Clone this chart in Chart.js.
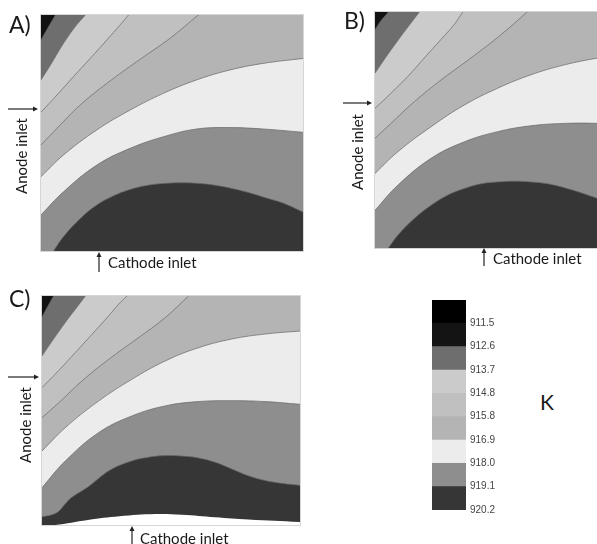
<!DOCTYPE html>
<html>
<head>
<meta charset="utf-8">
<script src="https://cdn.jsdelivr.net/npm/chart.js@4.4.1/dist/chart.umd.min.js"></script>
<style>
  body { margin: 0; width: 597px; height: 544px; overflow: hidden; background: #fff; position: relative; font-family: Lato, "Open Sans", sans-serif; }
  canvas { position: absolute; }
  canvas.panel { outline: 1px solid #d6d6d6; }
  .lbl { position: absolute; color: #1a1a1a; white-space: nowrap; line-height: 1; }
  .rot { position: absolute; color: #1a1a1a; white-space: nowrap; line-height: 1; font-size: 15px; transform: translate(-50%, -50%) rotate(-90deg); }
  svg { position: absolute; left: 0; top: 0; }
</style>
</head>
<body>
<canvas class="panel" id="panelA" width="262" height="236" style="left:41px;top:15px"></canvas>
<canvas class="panel" id="panelB" width="222" height="236" style="left:375px;top:12px"></canvas>
<canvas class="panel" id="panelC" width="258" height="229" style="left:42px;top:296px"></canvas>
<canvas id="scale" width="74" height="230" style="left:432px;top:290px"></canvas>

<div class="lbl" style="left:9px;top:13px;font-size:23px">A)</div>
<div class="lbl" style="left:344px;top:9px;font-size:23px">B)</div>
<div class="lbl" style="left:9px;top:287px;font-size:23px">C)</div>
<div class="rot" style="left:21px;top:156px">Anode inlet</div>
<div class="rot" style="left:357px;top:152px">Anode inlet</div>
<div class="rot" style="left:25px;top:425px">Anode inlet</div>
<div class="lbl" style="left:108px;top:255px;font-size:15px">Cathode inlet</div>
<div class="lbl" style="left:493px;top:251px;font-size:15px">Cathode inlet</div>
<div class="lbl" style="left:140px;top:531px;font-size:15px">Cathode inlet</div>
<div class="lbl" style="left:540px;top:391px;font-size:21px">K</div>

<svg width="597" height="544">
  <g stroke="#222" stroke-width="1.2" fill="#222">
    <line x1="8" y1="109" x2="35" y2="109"/><polygon points="38,109 33,106.5 33,111.5" stroke="none"/>
    <line x1="343" y1="103" x2="369" y2="103"/><polygon points="372,103 367,100.5 367,105.5" stroke="none"/>
    <line x1="8" y1="377" x2="36" y2="377"/><polygon points="39,377 34,374.5 34,379.5" stroke="none"/>
    <line x1="99" y1="272" x2="99" y2="255"/><polygon points="99,252 96.5,257 101.5,257" stroke="none"/>
    <line x1="484" y1="266" x2="484" y2="251"/><polygon points="484,248 481.5,253 486.5,253" stroke="none"/>
    <line x1="132" y1="544" x2="132" y2="529"/><polygon points="132,526 129.5,531 134.5,531" stroke="none"/>
  </g>
</svg>

<script>
// colour of each temperature band, coldest (top of scale) first
const scaleColors = ['#000000', '#141414', '#6e6e6e', '#cbcbcb', '#c0c0c0', '#b4b4b4', '#ececec', '#8e8e8e', '#363636'];
const scaleTicks = ['911.5', '912.6', '913.7', '914.8', '915.8', '916.9', '918.0', '919.1', '920.2'];

// regions inside the panels, from the top-left corner down to the bottom
const regionColors = ['#121212', '#6e6e6e', '#cbcbcb', '#c0c0c0', '#b4b4b4', '#ececec', '#8e8e8e', '#363636'];
const hotColor = '#ffffff';

// contour boundaries, x = % of width from the left, y = % of height from the bottom
const aEdges = [
  [[0, 89.4], [2.6, 94.5], [5.5, 100], [7, 103], [100, 103]],
  [[0, 72.5], [3.6, 78.8], [8.6, 88.0], [13.1, 95.1], [16.9, 100], [19.2, 103], [100, 103]],
  [[0, 58.8], [6.1, 66.1], [12.4, 73.9], [18.8, 81.6], [25.1, 89.4], [30.2, 95.8], [33.4, 100], [35.7, 103], [100, 103]],
  [[0, 44.9], [6.1, 52.0], [15.0, 61.9], [25.1, 71.0], [36.5, 80.2], [49.2, 90.1], [60.0, 100], [63.3, 103], [100, 103]],
  [[0, 31.5], [8.6, 40.7], [21.3, 51.3], [34.0, 59.7], [46.7, 66.8], [59.4, 72.5], [72.1, 76.7], [84.8, 79.5], [100, 81.6]],
  [[0, 15.3], [8.6, 25.1], [21.3, 36.4], [34.0, 43.5], [46.7, 48.4], [59.4, 51.7], [72.1, 52.3], [84.8, 51.7], [100, 50.3]],
  [[4.8, 0], [8.6, 6.1], [15.0, 13.8], [21.3, 19.5], [27.7, 23.4], [34.0, 26.1], [40.4, 27.8], [46.7, 28.6], [53.0, 28.9],
   [59.4, 28.7], [65.7, 28.0], [72.1, 26.7], [79.8, 24.6], [86.0, 22.5], [92.4, 20.3], [100, 16.5]]
];

const bEdges = [
  [[0, 92.5], [2.4, 96.5], [5.1, 100], [6.5, 103], [100, 103]],
  [[0, 74.1], [4.8, 81.9], [9.9, 89.7], [13.7, 95.3], [16.9, 100], [19.0, 103], [100, 103]],
  [[0, 59.2], [6.1, 65.6], [12.5, 72.7], [18.8, 80.5], [25.2, 88.4], [30.3, 94.8], [33.5, 100], [35.5, 103], [100, 103]],
  [[0, 46.5], [6.1, 52.8], [15.0, 62.0], [25.2, 71.2], [36.6, 80.5], [48.1, 90.4], [58.0, 100], [61.0, 103], [100, 103]],
  [[0, 31.6], [8.7, 40.8], [21.4, 51.4], [34.1, 60.6], [46.8, 67.7], [59.5, 73.4], [72.3, 77.6], [85.0, 80.5], [100, 83.0]],
  [[0, 16.0], [8.7, 26.6], [21.4, 38.0], [34.1, 45.0], [46.8, 49.3], [59.5, 51.8], [72.3, 52.8], [85.0, 52.8], [100, 52.0]],
  [[5.1, 0], [8.7, 5.4], [15.0, 12.5], [21.4, 18.1], [27.7, 22.4], [34.1, 25.2], [40.5, 27.2], [46.8, 28.0], [53.2, 28.3],
   [59.5, 28.0], [65.9, 27.2], [72.3, 25.5], [78.6, 23.4], [85.0, 21.0], [100, 16.0]]
];
const bVisibleMax = 84.7;

const cEdges = [
  [[0, 90.8], [2.2, 95.4], [4.5, 100], [6.0, 103], [100, 103]],
  [[0, 73.8], [3.9, 80.3], [9.0, 88.4], [12.9, 94.2], [16.8, 100], [18.8, 103], [100, 103]],
  [[0, 60.0], [6.5, 67.5], [12.9, 75.3], [19.4, 83.3], [25.8, 91.3], [29.7, 96.4], [32.9, 100], [35.0, 103], [100, 103]],
  [[0, 46.9], [6.5, 53.4], [15.5, 62.9], [25.8, 72.3], [37.4, 81.8], [47.7, 90.5], [56.8, 100], [59.8, 103], [100, 103]],
  [[0, 32.3], [9.0, 42.5], [21.9, 54.1], [34.8, 63.6], [47.7, 71.6], [60.6, 77.4], [73.5, 81.2], [86.5, 83.4], [100, 84.7]],
  [[0, 16.3], [9.0, 27.9], [21.9, 40.3], [34.8, 47.6], [47.7, 52.0], [60.6, 53.9], [73.5, 54.3], [86.5, 53.9], [100, 52.7]],
  [[0, 3.6], [3.5, 4.4], [6.2, 5.7], [8.7, 8.8], [11.2, 11.8], [17.8, 16.6], [26.4, 24.0], [34.8, 28.0], [41.3, 29.6],
   [47.7, 30.3], [54.2, 30.1], [60.6, 29.3], [67.1, 27.4], [73.5, 24.5], [80.0, 21.5], [86.5, 19.4], [92.9, 18.2], [100, 17.3]]
];
// white sliver along the bottom of panel C
const cHotEdge = [[0, 0], [5.0, 0], [17.8, 2.2], [30.0, 3.8], [43.8, 4.8], [54.2, 4.5], [67.1, 3.4], [80.0, 2.4], [100, 1.3]];

function contourSets(edges, extra) {
  const layers = [{ pts: [[0, 103], [100, 103]], color: regionColors[0], line: 0 }];
  edges.forEach((e, i) => layers.push({ pts: e, color: regionColors[i + 1], line: 0.7 }));
  if (extra) layers.push(extra);
  const n = layers.length;
  return layers.map((l, i) => ({
    data: l.pts.map(p => ({ x: p[0], y: p[1] })),
    backgroundColor: l.color,
    borderColor: '#666',
    borderWidth: l.line,
    fill: 'start',
    pointRadius: 0,
    tension: 0.4,
    order: n - i   // paint the top-left region first
  }));
}

function drawPanel(id, edges, xMax, extra) {
  new Chart(document.getElementById(id), {
    type: 'line',
    data: { datasets: contourSets(edges, extra) },
    options: {
      responsive: false,
      animation: false,
      layout: { padding: 0 },
      plugins: { legend: { display: false }, tooltip: { enabled: false } },
      scales: {
        x: { type: 'linear', min: 0, max: xMax, display: false },
        y: { type: 'linear', min: 0, max: 100, display: false }
      }
    }
  });
}

drawPanel('panelA', aEdges, 100);
drawPanel('panelB', bEdges, bVisibleMax);
drawPanel('panelC', cEdges, 100, { pts: cHotEdge, color: hotColor, line: 0 });

// colour scale
new Chart(document.getElementById('scale'), {
  type: 'bar',
  data: {
    labels: ['K'],
    datasets: scaleColors.slice().reverse().map(c => ({
      data: [1], backgroundColor: c, borderWidth: 0, barPercentage: 1, categoryPercentage: 1
    }))
  },
  options: {
    responsive: false,
    animation: false,
    layout: { padding: { top: 7, bottom: 7, left: 0, right: 0 } },
    plugins: { legend: { display: false }, tooltip: { enabled: false } },
    scales: {
      x: { stacked: true, display: false },
      y: {
        stacked: true, min: 0, max: 9, position: 'right',
        grid: { display: false, drawTicks: false },
        border: { display: false },
        ticks: {
          stepSize: 1, padding: 4, color: '#444',
          font: { family: 'Liberation Sans', size: 10 },
          callback: v => scaleTicks[8 - v] ?? ''
        },
        afterFit: s => { s.width = 40; }
      }
    }
  }
});
</script>
</body>
</html>
